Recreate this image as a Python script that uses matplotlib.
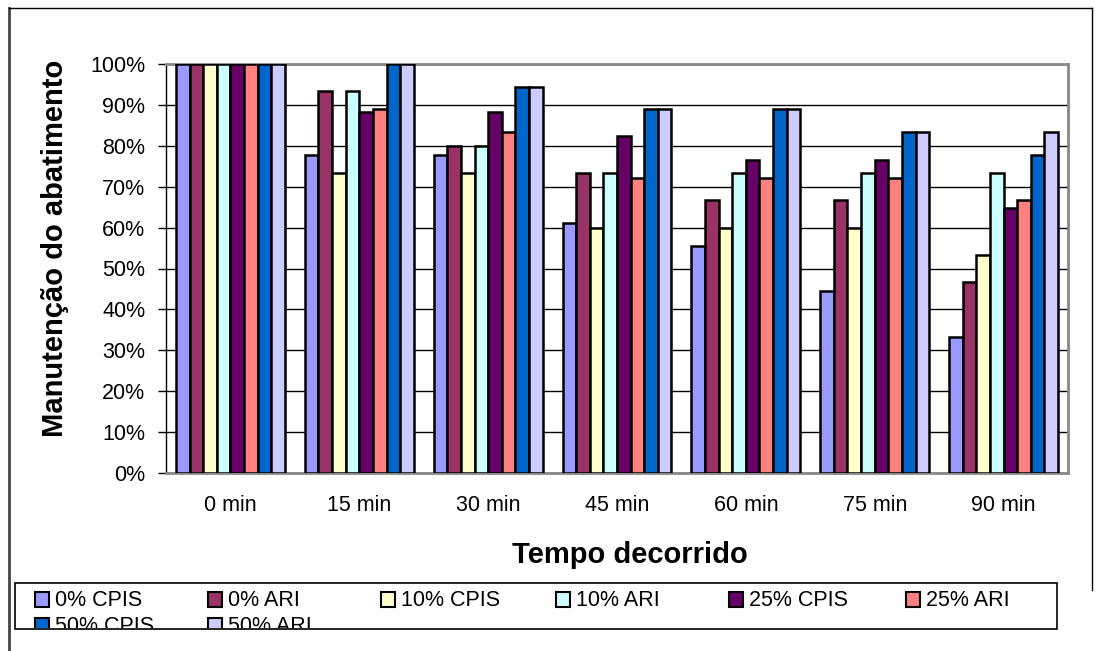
import numpy as np
import matplotlib.pyplot as plt
from matplotlib.patches import Rectangle
from matplotlib.lines import Line2D
from matplotlib.ticker import FuncFormatter

plt.rcParams['font.family'] = ['Liberation Sans', 'DejaVu Sans']

W, H = 1099, 651

###############################################################################
# Data
categorias = ['0 min', '15 min', '30 min', '45 min', '60 min', '75 min', '90 min']
series = ['0% CPIS', '0% ARI', '10% CPIS', '10% ARI',
          '25% CPIS', '25% ARI', '50% CPIS', '50% ARI']

cpis_0 = [100, 77.8, 77.8, 61.1, 55.6, 44.4, 33.3]
ari_0 = [100, 93.3, 80.0, 73.3, 66.7, 66.7, 46.7]
cpis_10 = [100, 73.3, 73.3, 60.0, 60.0, 60.0, 53.3]
ari_10 = [100, 93.3, 80.0, 73.3, 73.3, 73.3, 73.3]
cpis_25 = [100, 88.2, 88.2, 82.4, 76.5, 76.5, 64.7]
ari_25 = [100, 88.9, 83.3, 72.2, 72.2, 72.2, 66.7]
cpis_50 = [100, 100, 94.4, 88.9, 88.9, 83.3, 77.8]
ari_50 = [100, 100, 94.4, 88.9, 88.9, 83.3, 83.3]

valores = [cpis_0, ari_0, cpis_10, ari_10, cpis_25, ari_25, cpis_50, ari_50]
cores = ['#9999FF', '#993366', '#FFFFCC', '#CCFFFF',
         '#660066', '#FF8080', '#0066CC', '#CCCCFF']

###############################################################################
# Plot
fig = plt.figure(figsize=(W / 100, H / 100), dpi=100)
ax = fig.add_axes([166 / W, 1 - 473 / H, (1068 - 166) / W, (473 - 64) / H])

x = np.arange(len(categorias))
largura = 0.1057
for i, (nome, v) in enumerate(zip(series, valores)):
    ax.bar(x + (i - 3.5) * largura, v, largura, color=cores[i],
           edgecolor='black', linewidth=1.8, label=nome, zorder=3)

ax.set_xlim(-0.5, len(categorias) - 0.5)
ax.set_ylim(0, 100)
ax.set_yticks(np.arange(0, 101, 10))
ax.yaxis.set_major_formatter(FuncFormatter(lambda v, p: '%d%%' % v))
ax.yaxis.grid(True, color='black', linewidth=1.0, zorder=0)
ax.set_xticks(x)
ax.set_xticklabels(categorias)
ax.tick_params(axis='x', length=0, labelsize=15.5, pad=16)
ax.tick_params(axis='y', length=6, direction='out', labelsize=15.5, pad=9, width=1)

for s in ['top', 'right', 'bottom']:
    ax.spines[s].set_color('#888888')
    ax.spines[s].set_linewidth(2)
ax.spines['left'].set_linewidth(1)

# rótulos dos eixos
fig.text(55 / W, 1 - 248 / H, 'Manutenção do abatimento', fontsize=21,
         fontweight='bold', rotation=90, ha='center', va='center')
fig.text(630 / W, 1 - 555 / H, 'Tempo decorrido', fontsize=21,
         fontweight='bold', ha='center', va='center')

# moldura externa do gráfico
fig.add_artist(Line2D([9 / W, 9 / W], [0, 1 - 8 / H], color='#444444', lw=2))
fig.add_artist(Line2D([9 / W, 1092 / W], [1 - 8 / H, 1 - 8 / H], color='black', lw=1))
fig.add_artist(Line2D([1092 / W, 1092 / W], [1 - 590 / H, 1 - 8 / H], color='black', lw=1))

# legenda (caixa cortada como no original)
lx0, ly0, lx1, ly1 = 15, 583, 1057, 629
fig.add_artist(Rectangle((lx0 / W, 1 - ly1 / H), (lx1 - lx0) / W,
                         (ly1 - ly0) / H, fill=True, facecolor='white',
                         edgecolor='black', lw=1.2, zorder=5))
colunas = [35, 208, 381, 556, 729, 906]
linhas = [600, 626]
for i, nome in enumerate(series):
    cx = colunas[i % 6]
    cy = linhas[i // 6]
    clip = Rectangle((lx0 / W, 1 - (ly1 - 1) / H), (lx1 - lx0) / W,
                     (ly1 - 1 - ly0) / H, transform=fig.transFigure)
    r = Rectangle((cx / W, 1 - (cy + 7) / H), 14 / W, 15 / H,
                  facecolor=cores[i], edgecolor='black', lw=1.5,
                  transform=fig.transFigure, zorder=6)
    fig.add_artist(r)
    r.set_clip_path(clip)
    t = fig.text((cx + 20) / W, 1 - cy / H, nome, fontsize=15.5,
                 va='center', ha='left', zorder=6)
    t.set_clip_path(clip)

fig.savefig('out.png', dpi=100)
